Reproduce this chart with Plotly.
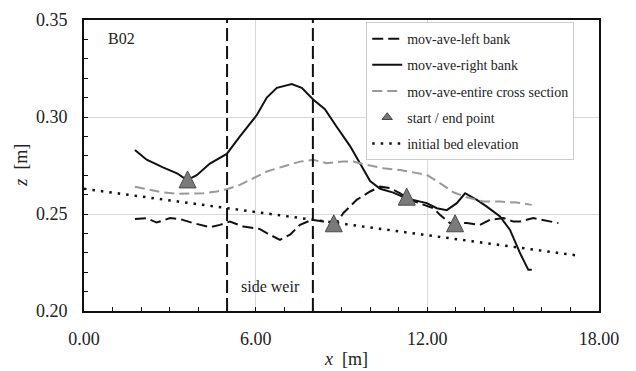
import plotly.graph_objects as go

# ---- data ----
right_x = [1.78, 2.19, 2.76, 3.25, 3.60, 3.94, 4.40, 4.99, 5.45, 6.04, 6.39, 6.74, 7.26, 7.61, 8.01,
           8.42, 8.83, 9.30, 9.65, 10.00, 10.35, 10.81, 11.28, 11.98, 12.33, 12.68, 13.03, 13.32,
           13.73, 14.08, 14.54, 14.89, 15.24, 15.53, 15.65]
right_z = [0.283, 0.278, 0.274, 0.271, 0.2675, 0.270, 0.276, 0.281, 0.290, 0.301, 0.310, 0.315, 0.317,
           0.315, 0.309, 0.304, 0.295, 0.285, 0.276, 0.267, 0.263, 0.261, 0.258, 0.2556, 0.253, 0.252,
           0.2556, 0.2607, 0.2573, 0.2538, 0.2487, 0.2418, 0.2298, 0.2212, 0.2212]

left_x = [1.78, 2.19, 2.54, 3.01, 3.36, 3.82, 4.40, 4.75, 5.10, 5.57, 6.15, 6.39, 6.85, 7.20, 7.55,
          7.96, 8.42, 8.83, 9.06, 9.53, 10.00, 10.35, 10.70, 11.05, 11.39, 11.74, 12.21, 12.44,
          12.79, 13.38, 13.84, 14.19, 14.66, 15.01, 15.24, 15.70, 16.05, 16.58]
left_z = [0.2474, 0.2479, 0.2456, 0.2479, 0.2474, 0.2453, 0.2432, 0.2444, 0.2461, 0.2435, 0.2422,
          0.2401, 0.2367, 0.2393, 0.2444, 0.2470, 0.2461, 0.2453, 0.2504, 0.2573, 0.2616, 0.2641,
          0.2633, 0.2607, 0.2573, 0.2556, 0.2530, 0.2496, 0.2453, 0.2453, 0.2444, 0.2470, 0.2479,
          0.2461, 0.2461, 0.2479, 0.2470, 0.2453]

entire_x = [1.78, 2.31, 2.77, 3.24, 3.70, 4.17, 4.64, 4.99, 5.45, 5.92, 6.39, 6.97, 7.55, 8.01, 8.48,
            9.06, 9.41, 9.88, 10.46, 11.05, 11.63, 11.98, 12.44, 12.91, 13.38, 13.96, 14.54, 15.12, 15.65]
entire_z = [0.2641, 0.2624, 0.2611, 0.2604, 0.2604, 0.2607, 0.2616, 0.2628, 0.2650, 0.2685, 0.2719,
            0.2745, 0.2770, 0.2779, 0.2762, 0.2770, 0.2770, 0.2753, 0.2736, 0.2727, 0.2710, 0.2702,
            0.2659, 0.2612, 0.2586, 0.2564, 0.2564, 0.2559, 0.2547]

bed_x = [0.0, 17.3]
bed_z = [0.263, 0.2285]

point_x = [3.62, 8.73, 11.28, 12.97]
point_z = [0.2722, 0.2496, 0.2633, 0.2496]

weir_x = [5.0, 8.0]
weir_label = "side weir"
panel_label = "B02"

x_ticks = [0, 6, 12, 18]
z_ticks = [0.20, 0.25, 0.30, 0.35]

SERIF = "Liberation Serif"

fig = go.Figure()

fig.add_trace(go.Scatter(x=left_x, y=left_z, mode="lines", name="mov-ave-left bank",
                         line=dict(color="#111111", width=2, dash="11px,5px"),
                         legendgroup="a", legendrank=1))
fig.add_trace(go.Scatter(x=right_x, y=right_z, mode="lines", name="mov-ave-right bank",
                         line=dict(color="#111111", width=2),
                         legendgroup="b", legendrank=2))
fig.add_trace(go.Scatter(x=entire_x, y=entire_z, mode="lines", name="mov-ave-entire cross section",
                         line=dict(color="#999999", width=2, dash="10px,5px"),
                         legendgroup="c", legendrank=3))
fig.add_trace(go.Scatter(x=bed_x, y=bed_z, mode="lines", name="initial bed elevation",
                         line=dict(color="#111111", width=2.5, dash="2.5px,6px"),
                         legendgroup="e", legendrank=5))
# legend sample for the triangles
fig.add_trace(go.Scatter(x=[None], y=[None], mode="markers", name="start / end point",
                         marker=dict(symbol="triangle-up", size=9, color="#777777",
                                     line=dict(color="#444444", width=1)),
                         legendgroup="d", legendrank=4))
fig.add_trace(go.Scatter(x=point_x, y=point_z, mode="markers", showlegend=False,
                         legendgroup="d",
                         marker=dict(symbol="arrow-up", size=17, color="#7a7a7a",
                                     line=dict(color="#4a4a4a", width=1))))

for wx in weir_x:
    fig.add_shape(type="line", xref="x", yref="paper", x0=wx, x1=wx, y0=0, y1=1,
                  line=dict(color="#111111", width=2, dash="13px,5px"))

fig.add_annotation(x=6.52, y=0.2125, xref="x", yref="y", text=weir_label, showarrow=False,
                   font=dict(family=SERIF, size=16, color="#222222"))
fig.add_annotation(x=0.043, y=0.935, xref="paper", yref="paper", text=panel_label, showarrow=False,
                   xanchor="left", yanchor="middle",
                   font=dict(family=SERIF, size=16, color="#222222"))
fig.add_annotation(x=0.509, y=-0.165, xref="paper", yref="paper", text="<i>x</i>  [m]",
                   showarrow=False, xanchor="center", yanchor="middle",
                   font=dict(family=SERIF, size=18, color="#222222"))
fig.add_annotation(x=-0.124, y=0.5, xref="paper", yref="paper", text="<i>z</i>  [m]",
                   showarrow=False, textangle=-90, xanchor="center", yanchor="middle",
                   font=dict(family=SERIF, size=18, color="#222222"))

axis_common = dict(showline=True, linecolor="#111111", linewidth=2, mirror=True,
                   showgrid=True, gridcolor="#d8d8d8", gridwidth=1, zeroline=False,
                   ticks="inside", ticklen=4, tickcolor="#111111", tickwidth=1,
                   tickfont=dict(family=SERIF, size=18, color="#222222"),
                   tickformat=".2f", automargin=False)

fig.update_xaxes(range=[0, 18], tickvals=x_ticks, ticklabelstandoff=10,
                 minor=dict(dtick=1, tick0=0, ticks="inside", ticklen=4, tickcolor="#111111",
                            showgrid=False),
                 **axis_common)
fig.update_yaxes(range=[0.20, 0.35], tickvals=z_ticks, ticklabelstandoff=11,
                 minor=dict(dtick=0.01, tick0=0.2, ticks="inside", ticklen=4, tickcolor="#111111",
                            showgrid=False),
                 **axis_common)

fig.update_layout(
    width=636, height=371,
    margin=dict(l=84, r=37, t=20, b=60),
    plot_bgcolor="white", paper_bgcolor="white",
    font=dict(family=SERIF, color="#222222"),
    legend=dict(x=0.548, y=0.993, xanchor="left", yanchor="top",
                bgcolor="white", bordercolor="#cccccc", borderwidth=1,
                font=dict(family=SERIF, size=14, color="#222222"),
                tracegroupgap=5, traceorder="grouped"),
)

fig.write_html("out.html")
